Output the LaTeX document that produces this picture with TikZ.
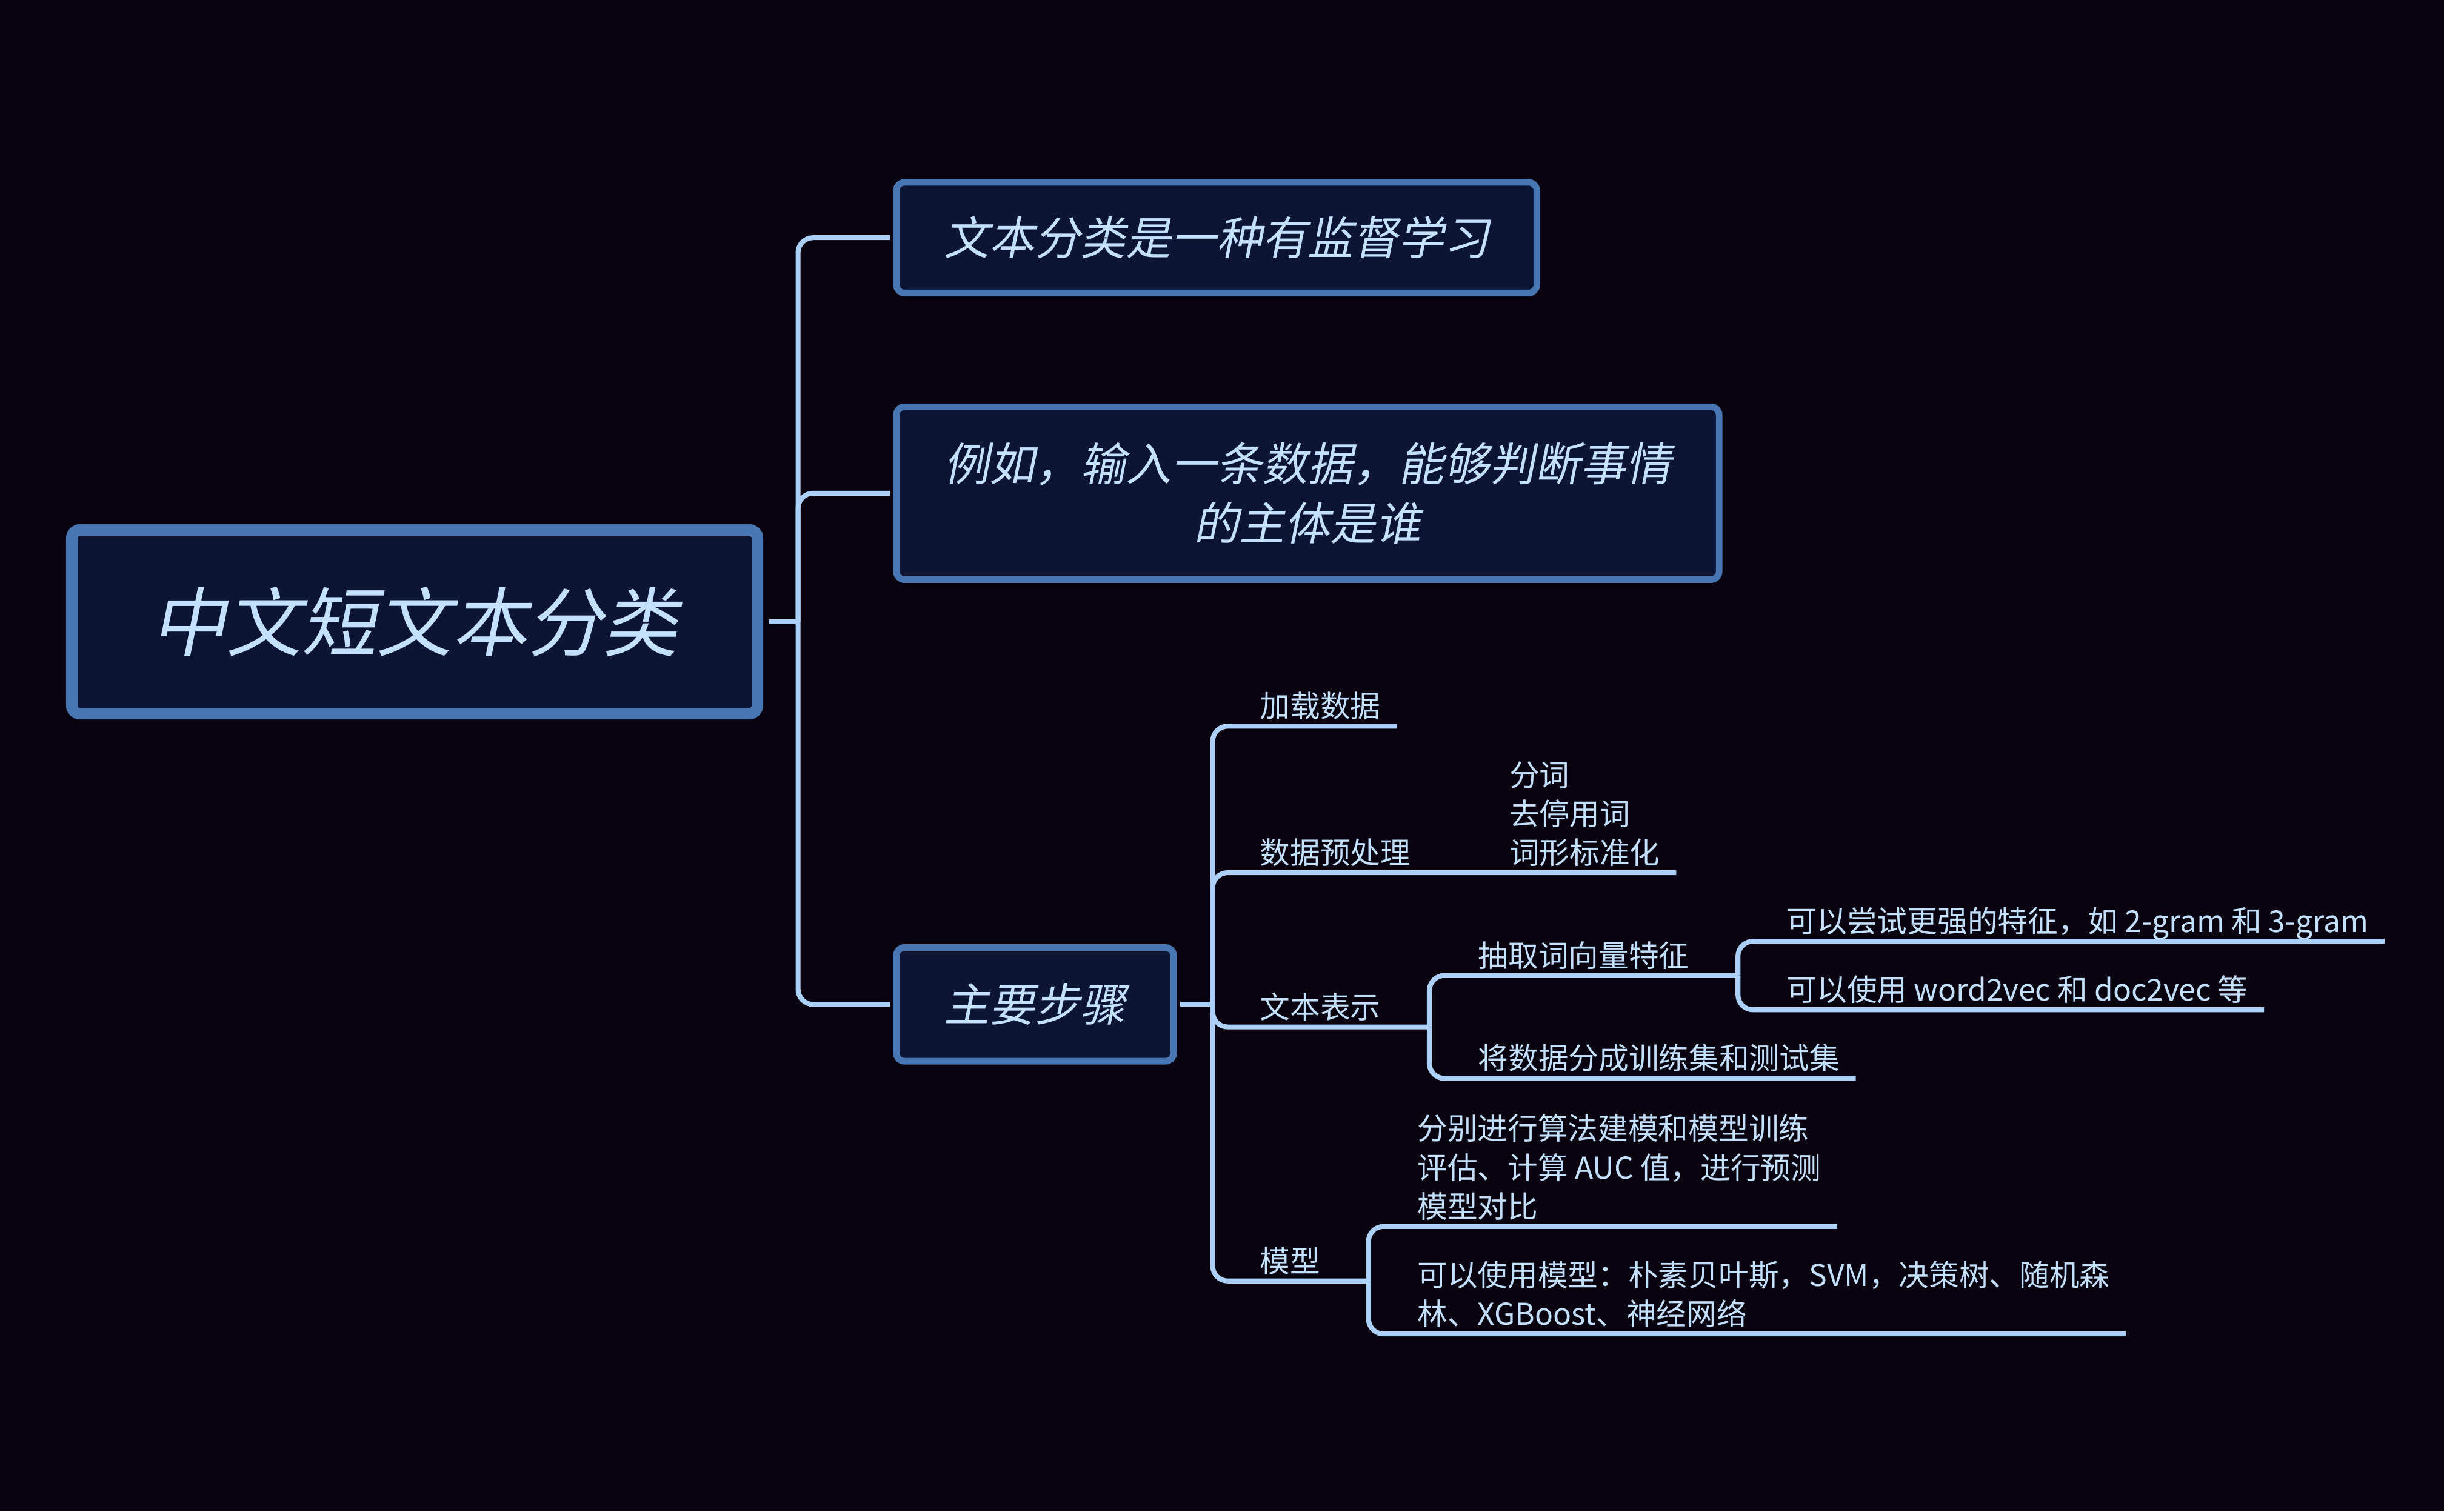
\documentclass[tikz,border=0pt]{standalone}
\usepackage{fontspec}
\setmainfont{Noto Sans CJK SC}
\newfontfamily\cjkslant[FakeSlant=0.2]{Noto Sans CJK SC}
\usepackage{xcolor}
\usetikzlibrary{calc}

\definecolor{bgdark}{RGB}{9,3,15}
\definecolor{boxfill}{RGB}{13,21,53}
\definecolor{boxedge}{RGB}{72,118,178}
\definecolor{linkblue}{RGB}{172,208,248}
\definecolor{textblue}{RGB}{196,224,255}

\begin{document}
\begin{tikzpicture}[x=0.02cm,y=-0.02cm,
  topic/.style={draw=boxedge,fill=boxfill,line width=2.4pt,rounded corners=3pt,
    text=textblue,align=center,font=\cjkslant\fontsize{16.6}{21.6}\selectfont},
  leaf/.style={anchor=south west,inner xsep=5.7pt,inner ysep=2pt,text depth=1pt,
    text=textblue,align=left,font=\fontsize{11}{14.2}\selectfont},
  conn/.style={draw=linkblue,line width=1.8pt,rounded corners=5.5pt}]
  \fill[bgdark] (0,0) rectangle (1568,970);

  % central topic and its three branches
  \node[topic,line width=4.2pt,minimum width=8.8cm,minimum height=2.36cm,
        font=\cjkslant\fontsize{27.5}{33}\selectfont] (root) at (266,399) {中文短文本分类};
  \node[topic,minimum width=8.22cm,minimum height=1.42cm] (goal) at (780.5,152.5)
    {文本分类是一种有监督学习};
  \node[topic,minimum width=10.56cm,minimum height=2.22cm] (example) at (839,316.5)
    {例如，输入一条数据，能够判断事情\\的主体是谁};
  \node[topic,minimum width=3.56cm,minimum height=1.46cm] (steps) at (664,644.5)
    {主要步骤};

  \coordinate (rootfork) at (512,399);
  \draw[conn,shorten <=2pt] (root.east) -- (rootfork);
  \draw[conn,shorten >=1.2pt] (rootfork) |- (goal.west);
  \draw[conn,shorten >=1.2pt] (rootfork) |- (example.west);
  \draw[conn,shorten >=1.2pt] (rootfork) |- (steps.west);

  % steps
  \coordinate (stepfork) at (778,644.5);
  \draw[conn,shorten <=1.2pt] (steps.east) -- (stepfork);

  \node[leaf] (load) at (798,466) {加载数据};
  \draw[conn] (stepfork) |- (load.south east);

  \node[leaf] (prep) at (798,560) {数据预处理};
  \node[leaf] (prepsub) at (958,560) {分词\\去停用词\\词形标准化};
  \draw[conn] (stepfork) |- (prepsub.south east);

  \node[leaf] (repr) at (798,659) {文本表示};
  \coordinate (reprfork) at (917,659);
  \draw[conn] (stepfork) |- (reprfork);
  \node[leaf] (vec) at (938,626) {抽取词向量特征};
  \coordinate (vecfork) at (1115,626);
  \draw[conn] (reprfork) |- (vecfork);
  \node[leaf] (vecgram) at (1136,604) {可以尝试更强的特征，如 2-gram 和 3-gram};
  \node[leaf] (vecembed) at (1136,648) {可以使用 word2vec 和 doc2vec 等};
  \draw[conn] (vecfork) |- (vecgram.south east);
  \draw[conn] (vecfork) |- (vecembed.south east);
  \node[leaf] (split) at (938,692) {将数据分成训练集和测试集};
  \draw[conn] (reprfork) |- (split.south east);

  \node[leaf] (model) at (798,822) {模型};
  \coordinate (modelfork) at (878,822);
  \draw[conn] (stepfork) |- (modelfork);
  \node[leaf] (modeltrain) at (899,787)
    {分别进行算法建模和模型训练\\评估、计算 AUC 值，进行预测\\模型对比};
  \node[leaf] (modelpick) at (899,856)
    {可以使用模型：朴素贝叶斯，SVM，决策树、随机森\\林、XGBoost、神经网络};
  \draw[conn] (modelfork) |- (modeltrain.south east);
  \draw[conn] (modelfork) |- (modelpick.south east);
\end{tikzpicture}
\end{document}
